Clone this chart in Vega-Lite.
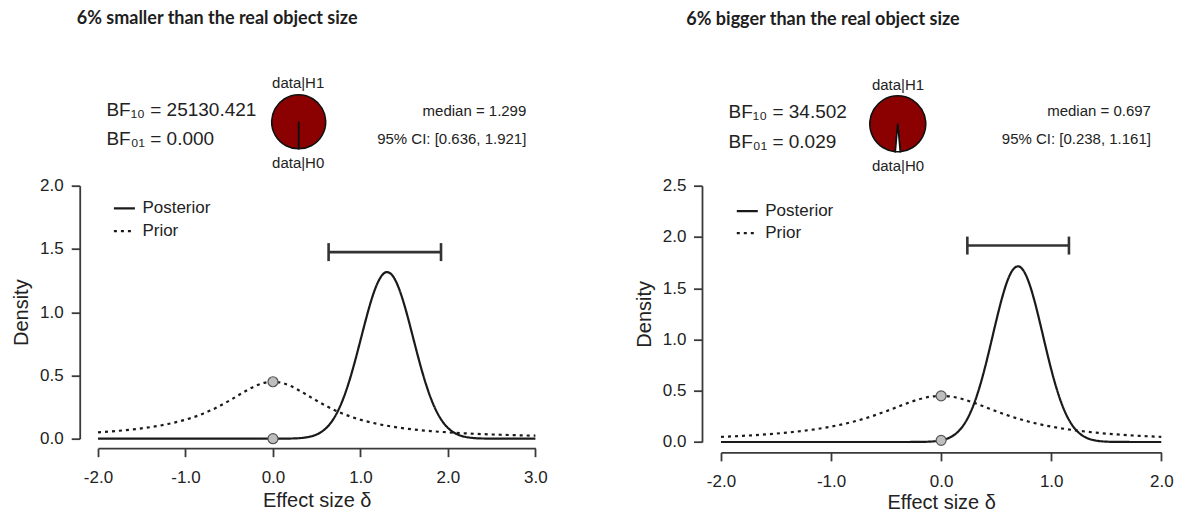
{
  "$schema": "https://vega.github.io/schema/vega-lite/v6.json",
  "padding": {"left": 11, "top": 9.7, "right": 0, "bottom": 0},
  "spacing": 86,
  "config": {
    "font": "Liberation Sans",
    "locale": {"number": {"decimal": ".", "thousands": ",", "grouping": [3], "currency": ["$", ""], "minus": "-"}},
    "view": {"stroke": null},
    "axis": {"grid": false, "domainColor": "#3a3a3a", "domainWidth": 1.8, "tickColor": "#3a3a3a", "tickWidth": 1.8, "tickSize": 8.5, "labelFontSize": 17, "labelColor": "#222", "titleFontSize": 20, "titleColor": "#222", "titleFontWeight": "normal", "labelFlush": false, "labelOverlap": false, "labelFont": "Liberation Sans", "titleFont": "Liberation Sans"},
    "legend": {"labelFont": "Liberation Sans"},
    "text": {"font": "Liberation Sans", "color": "#222"}
  },
  "resolve": {"scale": {"strokeDash": "independent", "theta": "independent", "x": "independent", "y": "independent", "fill": "independent"}, "legend": {"strokeDash": "independent"}},
  "hconcat": [
    {
      "width": 437.4,
      "height": 253,
      "encoding": {
        "x": {"field": "x", "type": "quantitative", "scale": {"domain": [-2, 3], "nice": false, "zero": false},
              "axis": {"values": [-2, -1, 0, 1, 2, 3], "format": ".1f", "offset": 9.5, "labelPadding": 13, "titlePadding": 5, "title": "Effect size δ"}},
        "y": {"field": "y", "type": "quantitative", "scale": {"domain": [0, 2], "nice": false},
              "axis": {"values": [0, 0.5, 1, 1.5, 2], "format": ".1f", "offset": 18.3, "labelPadding": 8, "titlePadding": 8, "title": "Density"}}
      },
      "layer": [
        {
          "data": {"values": [
            {"x": -2.0, "y": 0.0, "series": "Posterior"},
            {"x": -1.0, "y": 0.0, "series": "Posterior"},
            {"x": -0.5, "y": 0.0, "series": "Posterior"},
            {"x": 0.0, "y": 0.0001, "series": "Posterior"},
            {"x": 0.2, "y": 0.0013, "series": "Posterior"},
            {"x": 0.3, "y": 0.0043, "series": "Posterior"},
            {"x": 0.4, "y": 0.0127, "series": "Posterior"},
            {"x": 0.5, "y": 0.0334, "series": "Posterior"},
            {"x": 0.55, "y": 0.052, "series": "Posterior"},
            {"x": 0.6, "y": 0.0787, "series": "Posterior"},
            {"x": 0.65, "y": 0.1157, "series": "Posterior"},
            {"x": 0.7, "y": 0.1654, "series": "Posterior"},
            {"x": 0.75, "y": 0.2298, "series": "Posterior"},
            {"x": 0.8, "y": 0.3101, "series": "Posterior"},
            {"x": 0.85, "y": 0.4072, "series": "Posterior"},
            {"x": 0.9, "y": 0.5197, "series": "Posterior"},
            {"x": 0.95, "y": 0.6449, "series": "Posterior"},
            {"x": 1.0, "y": 0.7774, "series": "Posterior"},
            {"x": 1.05, "y": 0.9107, "series": "Posterior"},
            {"x": 1.1, "y": 1.038, "series": "Posterior"},
            {"x": 1.15, "y": 1.1495, "series": "Posterior"},
            {"x": 1.2, "y": 1.2372, "series": "Posterior"},
            {"x": 1.25, "y": 1.2946, "series": "Posterior"},
            {"x": 1.3, "y": 1.3168, "series": "Posterior"},
            {"x": 1.35, "y": 1.302, "series": "Posterior"},
            {"x": 1.4, "y": 1.2513, "series": "Posterior"},
            {"x": 1.45, "y": 1.169, "series": "Posterior"},
            {"x": 1.5, "y": 1.0616, "series": "Posterior"},
            {"x": 1.55, "y": 0.9372, "series": "Posterior"},
            {"x": 1.6, "y": 0.8041, "series": "Posterior"},
            {"x": 1.65, "y": 0.6707, "series": "Posterior"},
            {"x": 1.7, "y": 0.5438, "series": "Posterior"},
            {"x": 1.75, "y": 0.4288, "series": "Posterior"},
            {"x": 1.8, "y": 0.3285, "series": "Posterior"},
            {"x": 1.85, "y": 0.2444, "series": "Posterior"},
            {"x": 1.9, "y": 0.1771, "series": "Posterior"},
            {"x": 1.95, "y": 0.1246, "series": "Posterior"},
            {"x": 2.0, "y": 0.0852, "series": "Posterior"},
            {"x": 2.05, "y": 0.0566, "series": "Posterior"},
            {"x": 2.1, "y": 0.0366, "series": "Posterior"},
            {"x": 2.2, "y": 0.0141, "series": "Posterior"},
            {"x": 2.3, "y": 0.0048, "series": "Posterior"},
            {"x": 2.4, "y": 0.0015, "series": "Posterior"},
            {"x": 2.6, "y": 0.0001, "series": "Posterior"},
            {"x": 3.0, "y": 0.0, "series": "Posterior"},
            {"x": -2.0, "y": 0.05, "series": "Prior"},
            {"x": -1.8, "y": 0.0602, "series": "Prior"},
            {"x": -1.6, "y": 0.0736, "series": "Prior"},
            {"x": -1.4, "y": 0.0915, "series": "Prior"},
            {"x": -1.2, "y": 0.116, "series": "Prior"},
            {"x": -1.0, "y": 0.1501, "series": "Prior"},
            {"x": -0.9, "y": 0.1718, "series": "Prior"},
            {"x": -0.8, "y": 0.1975, "series": "Prior"},
            {"x": -0.7, "y": 0.2274, "series": "Prior"},
            {"x": -0.6, "y": 0.2618, "series": "Prior"},
            {"x": -0.5, "y": 0.3001, "series": "Prior"},
            {"x": -0.4, "y": 0.3411, "series": "Prior"},
            {"x": -0.3, "y": 0.3815, "series": "Prior"},
            {"x": -0.2, "y": 0.4169, "series": "Prior"},
            {"x": -0.1, "y": 0.4414, "series": "Prior"},
            {"x": 0.0, "y": 0.4502, "series": "Prior"},
            {"x": 0.1, "y": 0.4414, "series": "Prior"},
            {"x": 0.2, "y": 0.4169, "series": "Prior"},
            {"x": 0.3, "y": 0.3815, "series": "Prior"},
            {"x": 0.4, "y": 0.3411, "series": "Prior"},
            {"x": 0.5, "y": 0.3001, "series": "Prior"},
            {"x": 0.6, "y": 0.2618, "series": "Prior"},
            {"x": 0.7, "y": 0.2274, "series": "Prior"},
            {"x": 0.8, "y": 0.1975, "series": "Prior"},
            {"x": 0.9, "y": 0.1718, "series": "Prior"},
            {"x": 1.0, "y": 0.1501, "series": "Prior"},
            {"x": 1.2, "y": 0.116, "series": "Prior"},
            {"x": 1.4, "y": 0.0915, "series": "Prior"},
            {"x": 1.6, "y": 0.0736, "series": "Prior"},
            {"x": 1.8, "y": 0.0602, "series": "Prior"},
            {"x": 2.0, "y": 0.05, "series": "Prior"},
            {"x": 2.2, "y": 0.0422, "series": "Prior"},
            {"x": 2.4, "y": 0.036, "series": "Prior"},
            {"x": 2.6, "y": 0.031, "series": "Prior"},
            {"x": 2.8, "y": 0.027, "series": "Prior"},
            {"x": 3.0, "y": 0.0237, "series": "Prior"}
          ]},
          "mark": {"type": "line", "color": "#1a1a1a", "strokeWidth": 2.2, "interpolate": "monotone"},
          "encoding": {
            "strokeDash": {"field": "series", "type": "nominal", "scale": {"domain": ["Posterior", "Prior"], "range": [[1, 0], [3, 4]]},
                  "legend": {"orient": "none", "legendX": 14.4, "legendY": 10.7, "title": null, "symbolType": "stroke", "symbolSize": 441, "symbolStrokeWidth": 2.2, "symbolStrokeColor": "#1a1a1a", "labelFontSize": 17, "labelColor": "#222", "rowPadding": 2.8, "labelOffset": 6, "padding": 0}}
          }
        },
        {
          "data": {"values": [{"x": 0, "y": 0.4502}, {"x": 0, "y": 0.0001}]},
          "mark": {"type": "circle", "color": "#bebebe", "stroke": "#555", "strokeWidth": 1.2, "size": 100, "opacity": 1}
        },
        {
          "data": {"values": [{"x": 0.636, "x2": 1.921, "y": 1.475}]},
          "mark": {"type": "rule", "color": "#333", "strokeWidth": 2.6},
          "encoding": {"x2": {"field": "x2"}}
        },
        {
          "data": {"values": [{"x": 0.636, "y": 1.475}, {"x": 1.921, "y": 1.475}]},
          "mark": {"type": "tick", "orient": "vertical", "size": 18, "thickness": 2.6, "color": "#333", "opacity": 1}
        },
        {
          "data": {"values": [
            {"slice": "H1", "t0": 0.00002, "t1": 0.99998, "x": 0.294, "y": 2.505},
            {"slice": "H0", "t0": -0.00002, "t1": 0.00002, "x": 0.294, "y": 2.505}
          ]},
          "mark": {"type": "arc", "outerRadius": 27, "stroke": "#111", "strokeWidth": 1.6},
          "encoding": {
            "theta": {"field": "t0", "type": "quantitative", "scale": {"domain": [0, 1], "range": [3.14159265, 9.42477796]}, "stack": null},
            "theta2": {"field": "t1"},
            "fill": {"field": "slice", "type": "nominal", "scale": {"domain": ["H1", "H0"], "range": ["#8b0000", "#ffffff"]}, "legend": null}
          }
        },
        {
          "data": {"values": [{"x": -2.243, "y": 3.315, "label": "6% smaller than the real object size"}]},
          "mark": {"type": "text", "align": "left", "baseline": "middle", "font": "Lato", "fontWeight": "bold", "fontSize": 18, "color": "#1e1e1e"},
          "encoding": {"text": {"field": "label"}}
        },
        {
          "data": {"values": [{"x": -1.904, "y": 2.548, "label": "BF₁₀ = 25130.421"}, {"x": -1.904, "y": 2.3241, "label": "BF₀₁ = 0.000"}]},
          "mark": {"type": "text", "align": "left", "baseline": "alphabetic", "fontSize": 19},
          "encoding": {"text": {"field": "label"}}
        },
        {
          "data": {"values": [{"x": 0.288, "y": 2.811, "label": "data|H1"}, {"x": 0.288, "y": 2.1787, "label": "data|H0"}]},
          "mark": {"type": "text", "align": "center", "baseline": "middle", "fontSize": 15},
          "encoding": {"text": {"field": "label"}}
        },
        {
          "data": {"values": [{"x": 2.896, "y": 2.593, "label": "median = 1.299"}, {"x": 2.896, "y": 2.372, "label": "95% CI: [0.636, 1.921]"}]},
          "mark": {"type": "text", "align": "right", "baseline": "middle", "fontSize": 15},
          "encoding": {"text": {"field": "label"}}
        }
      ]
    },
    {
      "width": 440.3,
      "height": 256.3,
      "encoding": {
        "x": {"field": "x", "type": "quantitative", "scale": {"domain": [-2, 2], "nice": false, "zero": false},
              "axis": {"values": [-2, -1, 0, 1, 2], "format": ".1f", "offset": 10.4, "labelPadding": 12.5, "titlePadding": 3.5, "title": "Effect size δ"}},
        "y": {"field": "y", "type": "quantitative", "scale": {"domain": [0, 2.5], "nice": false},
              "axis": {"values": [0, 0.5, 1, 1.5, 2, 2.5], "format": ".1f", "offset": 19, "labelPadding": 7.5, "titlePadding": 8, "title": "Density"}}
      },
      "layer": [
        {
          "data": {"values": [
            {"x": -2.0, "y": 0.0, "series": "Posterior"},
            {"x": -1.0, "y": 0.0, "series": "Posterior"},
            {"x": -0.5, "y": 0.0, "series": "Posterior"},
            {"x": -0.3, "y": 0.0001, "series": "Posterior"},
            {"x": -0.2, "y": 0.0007, "series": "Posterior"},
            {"x": -0.1, "y": 0.0038, "series": "Posterior"},
            {"x": 0.0, "y": 0.016, "series": "Posterior"},
            {"x": 0.05, "y": 0.0306, "series": "Posterior"},
            {"x": 0.1, "y": 0.0556, "series": "Posterior"},
            {"x": 0.15, "y": 0.0964, "series": "Posterior"},
            {"x": 0.2, "y": 0.1593, "series": "Posterior"},
            {"x": 0.25, "y": 0.2508, "series": "Posterior"},
            {"x": 0.3, "y": 0.3764, "series": "Posterior"},
            {"x": 0.35, "y": 0.5384, "series": "Posterior"},
            {"x": 0.4, "y": 0.7334, "series": "Posterior"},
            {"x": 0.45, "y": 0.9533, "series": "Posterior"},
            {"x": 0.5, "y": 1.1799, "series": "Posterior"},
            {"x": 0.55, "y": 1.3921, "series": "Posterior"},
            {"x": 0.6, "y": 1.5657, "series": "Posterior"},
            {"x": 0.65, "y": 1.678, "series": "Posterior"},
            {"x": 0.7, "y": 1.7138, "series": "Posterior"},
            {"x": 0.75, "y": 1.6683, "series": "Posterior"},
            {"x": 0.8, "y": 1.5477, "series": "Posterior"},
            {"x": 0.85, "y": 1.3685, "series": "Posterior"},
            {"x": 0.9, "y": 1.1532, "series": "Posterior"},
            {"x": 0.95, "y": 0.9261, "series": "Posterior"},
            {"x": 1.0, "y": 0.7087, "series": "Posterior"},
            {"x": 1.05, "y": 0.5171, "series": "Posterior"},
            {"x": 1.1, "y": 0.3595, "series": "Posterior"},
            {"x": 1.15, "y": 0.2381, "series": "Posterior"},
            {"x": 1.2, "y": 0.1505, "series": "Posterior"},
            {"x": 1.25, "y": 0.0905, "series": "Posterior"},
            {"x": 1.3, "y": 0.052, "series": "Posterior"},
            {"x": 1.35, "y": 0.0284, "series": "Posterior"},
            {"x": 1.4, "y": 0.0148, "series": "Posterior"},
            {"x": 1.5, "y": 0.0035, "series": "Posterior"},
            {"x": 1.6, "y": 0.0007, "series": "Posterior"},
            {"x": 1.8, "y": 0.0, "series": "Posterior"},
            {"x": 2.0, "y": 0.0, "series": "Posterior"},
            {"x": -2.0, "y": 0.05, "series": "Prior"},
            {"x": -1.8, "y": 0.0602, "series": "Prior"},
            {"x": -1.6, "y": 0.0736, "series": "Prior"},
            {"x": -1.4, "y": 0.0915, "series": "Prior"},
            {"x": -1.2, "y": 0.116, "series": "Prior"},
            {"x": -1.0, "y": 0.1501, "series": "Prior"},
            {"x": -0.9, "y": 0.1718, "series": "Prior"},
            {"x": -0.8, "y": 0.1975, "series": "Prior"},
            {"x": -0.7, "y": 0.2274, "series": "Prior"},
            {"x": -0.6, "y": 0.2618, "series": "Prior"},
            {"x": -0.5, "y": 0.3001, "series": "Prior"},
            {"x": -0.4, "y": 0.3411, "series": "Prior"},
            {"x": -0.3, "y": 0.3815, "series": "Prior"},
            {"x": -0.2, "y": 0.4169, "series": "Prior"},
            {"x": -0.1, "y": 0.4414, "series": "Prior"},
            {"x": 0.0, "y": 0.4502, "series": "Prior"},
            {"x": 0.1, "y": 0.4414, "series": "Prior"},
            {"x": 0.2, "y": 0.4169, "series": "Prior"},
            {"x": 0.3, "y": 0.3815, "series": "Prior"},
            {"x": 0.4, "y": 0.3411, "series": "Prior"},
            {"x": 0.5, "y": 0.3001, "series": "Prior"},
            {"x": 0.6, "y": 0.2618, "series": "Prior"},
            {"x": 0.7, "y": 0.2274, "series": "Prior"},
            {"x": 0.8, "y": 0.1975, "series": "Prior"},
            {"x": 0.9, "y": 0.1718, "series": "Prior"},
            {"x": 1.0, "y": 0.1501, "series": "Prior"},
            {"x": 1.2, "y": 0.116, "series": "Prior"},
            {"x": 1.4, "y": 0.0915, "series": "Prior"},
            {"x": 1.6, "y": 0.0736, "series": "Prior"},
            {"x": 1.8, "y": 0.0602, "series": "Prior"},
            {"x": 2.0, "y": 0.05, "series": "Prior"}
          ]},
          "mark": {"type": "line", "color": "#1a1a1a", "strokeWidth": 2.2, "interpolate": "monotone"},
          "encoding": {
            "strokeDash": {"field": "series", "type": "nominal", "scale": {"domain": ["Posterior", "Prior"], "range": [[1, 0], [3, 4]]},
                  "legend": {"orient": "none", "legendX": 14.3, "legendY": 13.5, "title": null, "symbolType": "stroke", "symbolSize": 441, "symbolStrokeWidth": 2.2, "symbolStrokeColor": "#1a1a1a", "labelFontSize": 17, "labelColor": "#222", "rowPadding": 2, "labelOffset": 6, "padding": 0}}
          }
        },
        {
          "data": {"values": [{"x": 0, "y": 0.4502}, {"x": 0, "y": 0.016}]},
          "mark": {"type": "circle", "color": "#bebebe", "stroke": "#555", "strokeWidth": 1.2, "size": 100, "opacity": 1}
        },
        {
          "data": {"values": [{"x": 0.238, "x2": 1.161, "y": 1.916}]},
          "mark": {"type": "rule", "color": "#333", "strokeWidth": 2.6},
          "encoding": {"x2": {"field": "x2"}}
        },
        {
          "data": {"values": [{"x": 0.238, "y": 1.916}, {"x": 1.161, "y": 1.916}]},
          "mark": {"type": "tick", "orient": "vertical", "size": 18, "thickness": 2.6, "color": "#333", "opacity": 1}
        },
        {
          "data": {"values": [
            {"slice": "H1", "t0": 0.014, "t1": 0.986, "x": -0.394, "y": 3.104},
            {"slice": "H0", "t0": -0.014, "t1": 0.014, "x": -0.394, "y": 3.104}
          ]},
          "mark": {"type": "arc", "outerRadius": 28, "stroke": "#111", "strokeWidth": 1.6},
          "encoding": {
            "theta": {"field": "t0", "type": "quantitative", "scale": {"domain": [0, 1], "range": [3.14159265, 9.42477796]}, "stack": null},
            "theta2": {"field": "t1"},
            "fill": {"field": "slice", "type": "nominal", "scale": {"domain": ["H1", "H0"], "range": ["#8b0000", "#ffffff"]}, "legend": null}
          }
        },
        {
          "data": {"values": [{"x": -2.315, "y": 4.116, "label": "6% bigger than the real object size"}]},
          "mark": {"type": "text", "align": "left", "baseline": "middle", "font": "Lato", "fontWeight": "bold", "fontSize": 18, "color": "#1e1e1e"},
          "encoding": {"text": {"field": "label"}}
        },
        {
          "data": {"values": [{"x": -1.931, "y": 3.163, "label": "BF₁₀ = 34.502"}, {"x": -1.931, "y": 2.87, "label": "BF₀₁ = 0.029"}]},
          "mark": {"type": "text", "align": "left", "baseline": "alphabetic", "fontSize": 19},
          "encoding": {"text": {"field": "label"}}
        },
        {
          "data": {"values": [{"x": -0.392, "y": 3.486, "label": "data|H1"}, {"x": -0.392, "y": 2.696, "label": "data|H0"}]},
          "mark": {"type": "text", "align": "center", "baseline": "middle", "fontSize": 15},
          "encoding": {"text": {"field": "label"}}
        },
        {
          "data": {"values": [{"x": 1.906, "y": 3.225, "label": "median = 0.697"}, {"x": 1.906, "y": 2.955, "label": "95% CI: [0.238, 1.161]"}]},
          "mark": {"type": "text", "align": "right", "baseline": "middle", "fontSize": 15},
          "encoding": {"text": {"field": "label"}}
        }
      ]
    }
  ]
}
